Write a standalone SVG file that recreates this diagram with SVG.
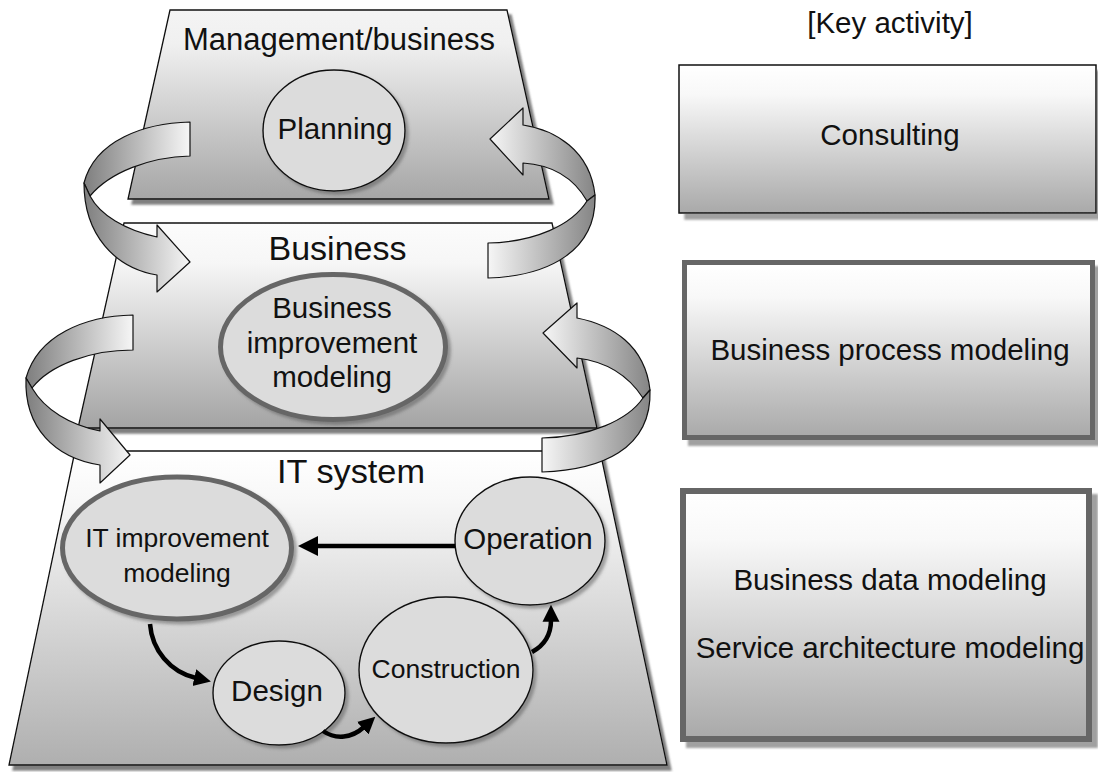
<svg xmlns="http://www.w3.org/2000/svg" width="1098" height="772" viewBox="0 0 1098 772">
<defs>
<style>
text{font-family:"Liberation Sans",Arial,sans-serif;fill:#111;text-anchor:middle}
.t30{font-size:29.5px}
.t26{font-size:26.5px}
.head{font-size:33px}
.layer{stroke:#111;stroke-width:1.3;filter:url(#shadow)}
.node{fill:#dcdcdc;stroke:#111;stroke-width:1.4;filter:url(#cshadow)}
.thick{fill:#dcdcdc;stroke:#666;stroke-width:5;filter:url(#cshadow)}
.rib{stroke:#111;stroke-width:1.2;stroke-linejoin:round}
.ribL{fill:url(#ribL)}
.ribR{fill:url(#ribR)}
.flow{fill:none;stroke:#000;stroke-width:4.5}
</style>
<linearGradient id="layerGrad" x1="0" y1="0" x2="0" y2="1">
<stop offset="0" stop-color="#f4f4f4"/>
<stop offset="0.18" stop-color="#f0f0f0"/>
<stop offset="1" stop-color="#a6a6a6"/>
</linearGradient>
<linearGradient id="midGrad" x1="0" y1="0" x2="0" y2="1">
<stop offset="0" stop-color="#fcfcfc"/>
<stop offset="0.2" stop-color="#f6f6f6"/>
<stop offset="1" stop-color="#a4a4a4"/>
</linearGradient>
<linearGradient id="botGrad" x1="0" y1="0" x2="0" y2="1">
<stop offset="0" stop-color="#ffffff"/>
<stop offset="0.15" stop-color="#f8f8f8"/>
<stop offset="1" stop-color="#afafaf"/>
</linearGradient>
<linearGradient id="boxGrad" x1="0" y1="0" x2="0" y2="1">
<stop offset="0" stop-color="#ffffff"/>
<stop offset="0.2" stop-color="#f8f8f8"/>
<stop offset="1" stop-color="#a9a9a9"/>
</linearGradient>
<linearGradient id="ribL" x1="0" y1="0" x2="1" y2="0">
<stop offset="0" stop-color="#7e7e7e"/>
<stop offset="1" stop-color="#f6f6f6"/>
</linearGradient>
<linearGradient id="ribR" x1="0" y1="0" x2="1" y2="0">
<stop offset="0" stop-color="#f6f6f6"/>
<stop offset="1" stop-color="#858585"/>
</linearGradient>
<filter id="shadow" x="-5%" y="-5%" width="115%" height="115%">
<feDropShadow dx="4" dy="5" stdDeviation="1" flood-color="#555" flood-opacity="0.75"/>
</filter>
<filter id="cshadow" x="-10%" y="-10%" width="125%" height="125%">
<feDropShadow dx="3" dy="3" stdDeviation="1.5" flood-color="#555" flood-opacity="0.5"/>
</filter>
<filter id="bshadow" x="-5%" y="-5%" width="115%" height="120%">
<feDropShadow dx="6" dy="6" stdDeviation="0.8" flood-color="#888" flood-opacity="0.8"/>
</filter>
<marker id="arrowBig" viewBox="0 0 20 20" refX="2" refY="10" markerWidth="20" markerHeight="22" markerUnits="userSpaceOnUse" orient="auto">
<path d="M0,0 L20,10 L0,20 Z" fill="#000"/>
</marker>
<marker id="arrowSm" viewBox="0 0 20 20" refX="2" refY="10" markerWidth="17" markerHeight="19" markerUnits="userSpaceOnUse" orient="auto">
<path d="M0,0 L20,10 L0,20 Z" fill="#000"/>
</marker>
</defs>
<rect width="1098" height="772" fill="#fff"/>

<g id="layer-management">
<path class="layer" d="M170,10 L507,10 L549,199 L128,199 Z" fill="url(#layerGrad)"/>
<text x="339" y="50" style="font-size:31px">Management/business</text>
</g>
<g id="layer-business">
<path class="layer" d="M124,223 L552,223 L597,428 L78,428 Z" fill="url(#midGrad)"/>
<text class="head" x="337.5" y="260" textLength="138" lengthAdjust="spacingAndGlyphs">Business</text>
</g>
<g id="layer-it">
<path class="layer" d="M75,451 L600,451 L667,765 L9,765 Z" fill="url(#botGrad)"/>
<text class="head" x="351" y="483" textLength="148" lengthAdjust="spacingAndGlyphs">IT system</text>
</g>

<g id="node-planning">
<ellipse class="node" cx="334" cy="130.5" rx="71" ry="60.5"/>
<text class="t30" x="335" y="139">Planning</text>
</g>
<g id="node-business-improvement">
<ellipse class="thick" cx="333" cy="347" rx="112.5" ry="72.5"/>
<text class="t30" x="332" y="318">Business</text>
<text class="t30" x="332" y="353">improvement</text>
<text class="t30" x="332" y="387">modeling</text>
</g>
<g id="node-it-improvement">
<ellipse class="thick" cx="177" cy="548" rx="114.5" ry="71"/>
<text class="t26" x="177" y="547">IT improvement</text>
<text class="t26" x="177" y="582">modeling</text>
</g>
<g id="node-operation">
<ellipse class="node" cx="530" cy="541" rx="75" ry="64"/>
<text class="t30" x="528" y="549">Operation</text>
</g>
<g id="node-construction">
<ellipse class="node" cx="446" cy="670" rx="87" ry="73"/>
<text class="t26" x="446" y="678">Construction</text>
</g>
<g id="node-design">
<ellipse class="node" cx="279" cy="693" rx="66" ry="52"/>
<text class="t30" x="277" y="701">Design</text>
</g>

<g id="key-activity">
<text class="t30" x="890" y="33">[Key activity]</text>
</g>
<g id="box-consulting">
<rect x="679" y="65" width="417" height="148" fill="url(#boxGrad)" stroke="#111" stroke-width="1.5" filter="url(#bshadow)"/>
<text class="t30" x="890" y="145">Consulting</text>
</g>
<g id="box-bpm">
<rect x="684.5" y="262.5" width="408" height="175" fill="url(#boxGrad)" stroke="#666" stroke-width="5" filter="url(#bshadow)"/>
<text class="t30" x="890" y="360">Business process modeling</text>
</g>
<g id="box-data-service">
<rect x="683" y="491" width="406" height="248" fill="url(#boxGrad)" stroke="#666" stroke-width="6" filter="url(#bshadow)"/>
<text class="t30" x="890" y="590">Business data modeling</text>
<text class="t30" x="890" y="658">Service architecture modeling</text>
</g>

<g id="connectors">
<g id="cycle-left-top">
<path class="rib ribL" d="M190,122 C145,123 95,140 84,183 L90,196 C110,172 150,157 190,156 Z"/>
<path class="rib ribL" d="M84,183 C84,235 115,268 157,275 L157,292 L190,262 L157,225 L157,237 C125,230 100,215 90,196 Z"/>
</g>
<g id="cycle-left-mid">
<path class="rib ribL" d="M133,315 C85,316 38,335 26,378 L32,388 C50,365 90,350 133,350 Z"/>
<path class="rib ribL" d="M26,378 C24,428 55,458 100,465 L100,483 L130,455 L100,419 L100,431 C70,425 45,410 32,388 Z"/>
</g>
<g id="cycle-right-top">
<path class="rib ribR" d="M490,139 L523,108 L523,125 C555,130 590,150 595,195 L587,201 C575,180 555,165 523,163 L523,175 Z"/>
<path class="rib ribR" d="M595,195 C597,250 550,276 488,278 L488,243 C535,242 572,225 587,201 Z"/>
</g>
<g id="cycle-right-mid">
<path class="rib ribR" d="M543,333 L577,303 L577,318 C612,325 645,345 650,390 L643,398 C630,378 610,362 577,358 L577,368 Z"/>
<path class="rib ribR" d="M650,390 C652,450 600,470 542,472 L542,438 C590,437 628,420 643,398 Z"/>
</g>
<path class="flow" d="M455,546 L316,546" marker-end="url(#arrowBig)"/>
<path class="flow" d="M150,624 C152,650 170,672 196,678" marker-end="url(#arrowSm)"/>
<path class="flow" d="M323,731 C336,740 352,738 364,727" marker-end="url(#arrowSm)"/>
<path class="flow" d="M532,652 C545,645 551,635 551,620" marker-end="url(#arrowSm)"/>
</g>
</svg>
